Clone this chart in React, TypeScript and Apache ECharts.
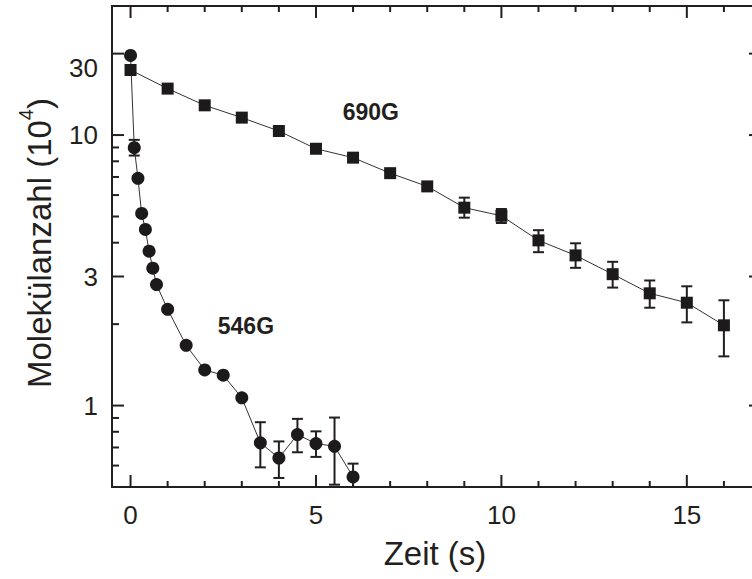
import React, { useEffect, useRef } from "react";
import * as echarts from "echarts";

// ---- data ----
const t546 = [0, 0.1, 0.2, 0.3, 0.4, 0.5, 0.6, 0.7, 1.0, 1.5, 2.0, 2.5, 3.0, 3.5, 4.0, 4.5, 5.0, 5.5, 6.0];
const n546 = [19.7, 8.98, 6.92, 5.13, 4.48, 3.72, 3.22, 2.8, 2.27, 1.67, 1.355, 1.295, 1.068, 0.728, 0.64, 0.781, 0.724, 0.707, 0.545];
const lo546 = [null, 8.4, null, null, null, null, null, null, null, null, null, null, null, 0.591, 0.54, 0.672, 0.646, 0.51, 0.48];
const hi546 = [null, 9.6, null, null, null, null, null, null, null, null, null, null, null, 0.868, 0.737, 0.893, 0.803, 0.903, 0.61];

const t690 = [0, 1, 2, 3, 4, 5, 6, 7, 8, 9, 10, 11, 12, 13, 14, 15, 16];
const n690 = [17.4, 14.85, 12.88, 11.6, 10.35, 8.9, 8.25, 7.23, 6.46, 5.39, 5.03, 4.08, 3.59, 3.06, 2.6, 2.4, 1.98];
const lo690 = [null, null, null, null, null, null, null, null, null, 4.95, 4.73, 3.69, 3.23, 2.73, 2.3, 2.03, 1.52];
const hi690 = [null, null, null, null, null, null, null, null, null, 5.87, 5.33, 4.45, 3.98, 3.4, 2.9, 2.76, 2.45];

const xTickValues = [0, 1, 2, 3, 4, 5, 6, 7, 8, 9, 10, 11, 12, 13, 14, 15, 16];
const xTickLabels = ["0", "5", "10", "15"];
const xLabelValues = [0, 5, 10, 15];
const yMajorTicks = [1, 3, 10, 20];
const yMinorTicks = [0.6, 0.7, 0.8, 0.9, 2, 4, 5, 6, 7, 8, 9];
const yTickLabels = ["1", "3", "10", "30"];
const yLabelValues = [1, 3, 10, 20];

const seriesNames = ["546G", "690G"];
const annotationX = [3.11, 6.48];
const annotationY = [1.97, 12.2];

const X_MIN = -0.5;
const X_MAX = 17;
const Y_MIN = 0.5;
const Y_MAX = 30;

const FONT = '"Liberation Sans", Arial, Helvetica, sans-serif';
const INK = "#231f20";

function errData(t: number[], lo: (number | null)[], hi: (number | null)[]) {
  const out: number[][] = [];
  t.forEach((x, i) => {
    if (lo[i] != null && hi[i] != null) out.push([x, lo[i] as number, hi[i] as number]);
  });
  return out;
}

const errRender = (cap: number) => (params: any, api: any) => {
  const x = api.value(0);
  const pl = api.coord([x, api.value(1)]);
  const ph = api.coord([x, api.value(2)]);
  const st = { stroke: INK, lineWidth: 2 };
  return {
    type: "group",
    children: [
      { type: "line", shape: { x1: pl[0], y1: pl[1], x2: ph[0], y2: ph[1] }, style: st },
      { type: "line", shape: { x1: pl[0] - cap, y1: pl[1], x2: pl[0] + cap, y2: pl[1] }, style: st },
      { type: "line", shape: { x1: ph[0] - cap, y1: ph[1], x2: ph[0] + cap, y2: ph[1] }, style: st },
    ],
  };
};

export default function App() {
  const ref = useRef<HTMLDivElement>(null);
  useEffect(() => {
    if (!ref.current) return;
    const chart = echarts.init(ref.current, undefined, { renderer: "svg" });

    const xTickData = xTickValues.map((v) => [v, 1, v % 5 === 0 ? 1 : 0]);
    const yTickData = [
      ...yMajorTicks.map((v) => [X_MIN, v, 1]),
      ...yMinorTicks.map((v) => [X_MIN, v, 0]),
    ];
    const xLabelData = xLabelValues.map((v, i) => [v, Y_MIN, i]);
    const yLabelData = yLabelValues.map((v, i) => [X_MIN, v, i]);
    const annData = annotationX.map((x, i) => [x, annotationY[i], i]);

    const option: any = {
      animation: false,
      grid: {
        left: 112,
        top: 6,
        right: 9,
        bottom: 92,
        show: true,
        borderColor: INK,
        borderWidth: 2,
        backgroundColor: "transparent",
      },
      xAxis: {
        type: "value",
        min: X_MIN,
        max: X_MAX,
        axisLine: { show: false },
        axisTick: { show: false },
        axisLabel: { show: false },
        splitLine: { show: false },
      },
      yAxis: {
        type: "log",
        logBase: 10,
        min: Y_MIN,
        max: Y_MAX,
        axisLine: { show: false },
        axisTick: { show: false },
        axisLabel: { show: false },
        splitLine: { show: false },
        minorTick: { show: false },
        minorSplitLine: { show: false },
      },
      graphic: [
        {
          type: "text",
          x: 435,
          y: 553,
          style: {
            text: "Zeit (s)",
            fontSize: 33,
            fontFamily: FONT,
            fill: INK,
            align: "center",
            verticalAlign: "middle",
          },
        },
        {
          type: "text",
          x: 36,
          y: 243,
          rotation: Math.PI / 2,
          style: {
            text: "{m|Molekülanzahl (10}{s|4}{m|)}",
            fontFamily: FONT,
            fill: INK,
            align: "center",
            verticalAlign: "middle",
            rich: {
              m: { fontSize: 33, fontFamily: FONT, fill: INK, lineHeight: 40, verticalAlign: "bottom" },
              s: { fontSize: 20, fontFamily: FONT, fill: INK, lineHeight: 20, verticalAlign: "top" },
            },
          },
        },
      ],
      series: [
        // x ticks (bottom and top)
        {
          type: "custom",
          silent: true,
          z: 5,
          data: xTickData,
          renderItem: (params: any, api: any) => {
            const v = api.value(0);
            const len = api.value(2) ? 12 : 6;
            const b = api.coord([v, Y_MIN]);
            const t = api.coord([v, Y_MAX]);
            const st = { stroke: INK, lineWidth: 2 };
            return {
              type: "group",
              children: [
                { type: "line", shape: { x1: b[0], y1: b[1], x2: b[0], y2: b[1] - len }, style: st },
                { type: "line", shape: { x1: t[0], y1: t[1], x2: t[0], y2: t[1] + len }, style: st },
              ],
            };
          },
        },
        // y ticks (left and right)
        {
          type: "custom",
          silent: true,
          z: 5,
          data: yTickData,
          renderItem: (params: any, api: any) => {
            const v = api.value(1);
            const len = api.value(2) ? 12 : 7;
            const l = api.coord([X_MIN, v]);
            const r = api.coord([X_MAX, v]);
            const st = { stroke: INK, lineWidth: 2 };
            return {
              type: "group",
              children: [
                { type: "line", shape: { x1: l[0], y1: l[1], x2: l[0] + len, y2: l[1] }, style: st },
                { type: "line", shape: { x1: r[0], y1: r[1], x2: r[0] - len, y2: r[1] }, style: st },
              ],
            };
          },
        },
        // x tick labels
        {
          type: "custom",
          silent: true,
          data: xLabelData,
          renderItem: (params: any, api: any) => {
            const p = api.coord([api.value(0), Y_MIN]);
            return {
              type: "text",
              x: p[0],
              y: p[1] + 28,
              style: {
                text: xTickLabels[api.value(2)],
                fontSize: 26,
                fontFamily: FONT,
                fill: INK,
                align: "center",
                verticalAlign: "middle",
              },
            };
          },
        },
        // y tick labels
        {
          type: "custom",
          silent: true,
          data: yLabelData,
          renderItem: (params: any, api: any) => {
            const i = api.value(2);
            const p = api.coord([X_MIN, api.value(1)]);
            return {
              type: "text",
              x: p[0] - 14,
              y: p[1] + (yTickLabels[i] === "30" ? 14 : 0),
              style: {
                text: yTickLabels[i],
                fontSize: 26,
                fontFamily: FONT,
                fill: INK,
                align: "right",
                verticalAlign: "middle",
              },
            };
          },
        },
        // error bars
        {
          type: "custom",
          silent: true,
          clip: true,
          z: 2,
          data: errData(t546, lo546, hi546),
          renderItem: errRender(5.5),
        },
        {
          type: "custom",
          silent: true,
          clip: true,
          z: 2,
          data: errData(t690, lo690, hi690),
          renderItem: errRender(5.5),
        },
        {
          name: seriesNames[0],
          type: "line",
          z: 3,
          data: t546.map((x, i) => [x, n546[i]]),
          symbol: "circle",
          symbolSize: 13,
          lineStyle: { color: "#333", width: 1 },
          itemStyle: { color: "#1c1a1b" },
        },
        {
          name: seriesNames[1],
          type: "line",
          z: 4,
          data: t690.map((x, i) => [x, n690[i]]),
          symbol: "rect",
          symbolSize: 12,
          lineStyle: { color: "#333", width: 1 },
          itemStyle: { color: "#1c1a1b" },
        },
        // series annotations
        {
          type: "custom",
          silent: true,
          data: annData,
          renderItem: (params: any, api: any) => {
            const p = api.coord([api.value(0), api.value(1)]);
            return {
              type: "text",
              x: p[0],
              y: p[1],
              style: {
                text: seriesNames[api.value(2)],
                fontSize: 23,
                fontWeight: "bold",
                fontFamily: FONT,
                fill: INK,
                align: "center",
                verticalAlign: "middle",
              },
            };
          },
        },
      ],
    };
    chart.setOption(option);
    return () => chart.dispose();
  }, []);

  return (
    <div
      style={{
        position: "absolute",
        left: 0,
        top: 0,
        width: 752,
        height: 579,
        overflow: "hidden",
        background: "#fff",
      }}
    >
      <div ref={ref} style={{ width: 770, height: 579 }} />
    </div>
  );
}
